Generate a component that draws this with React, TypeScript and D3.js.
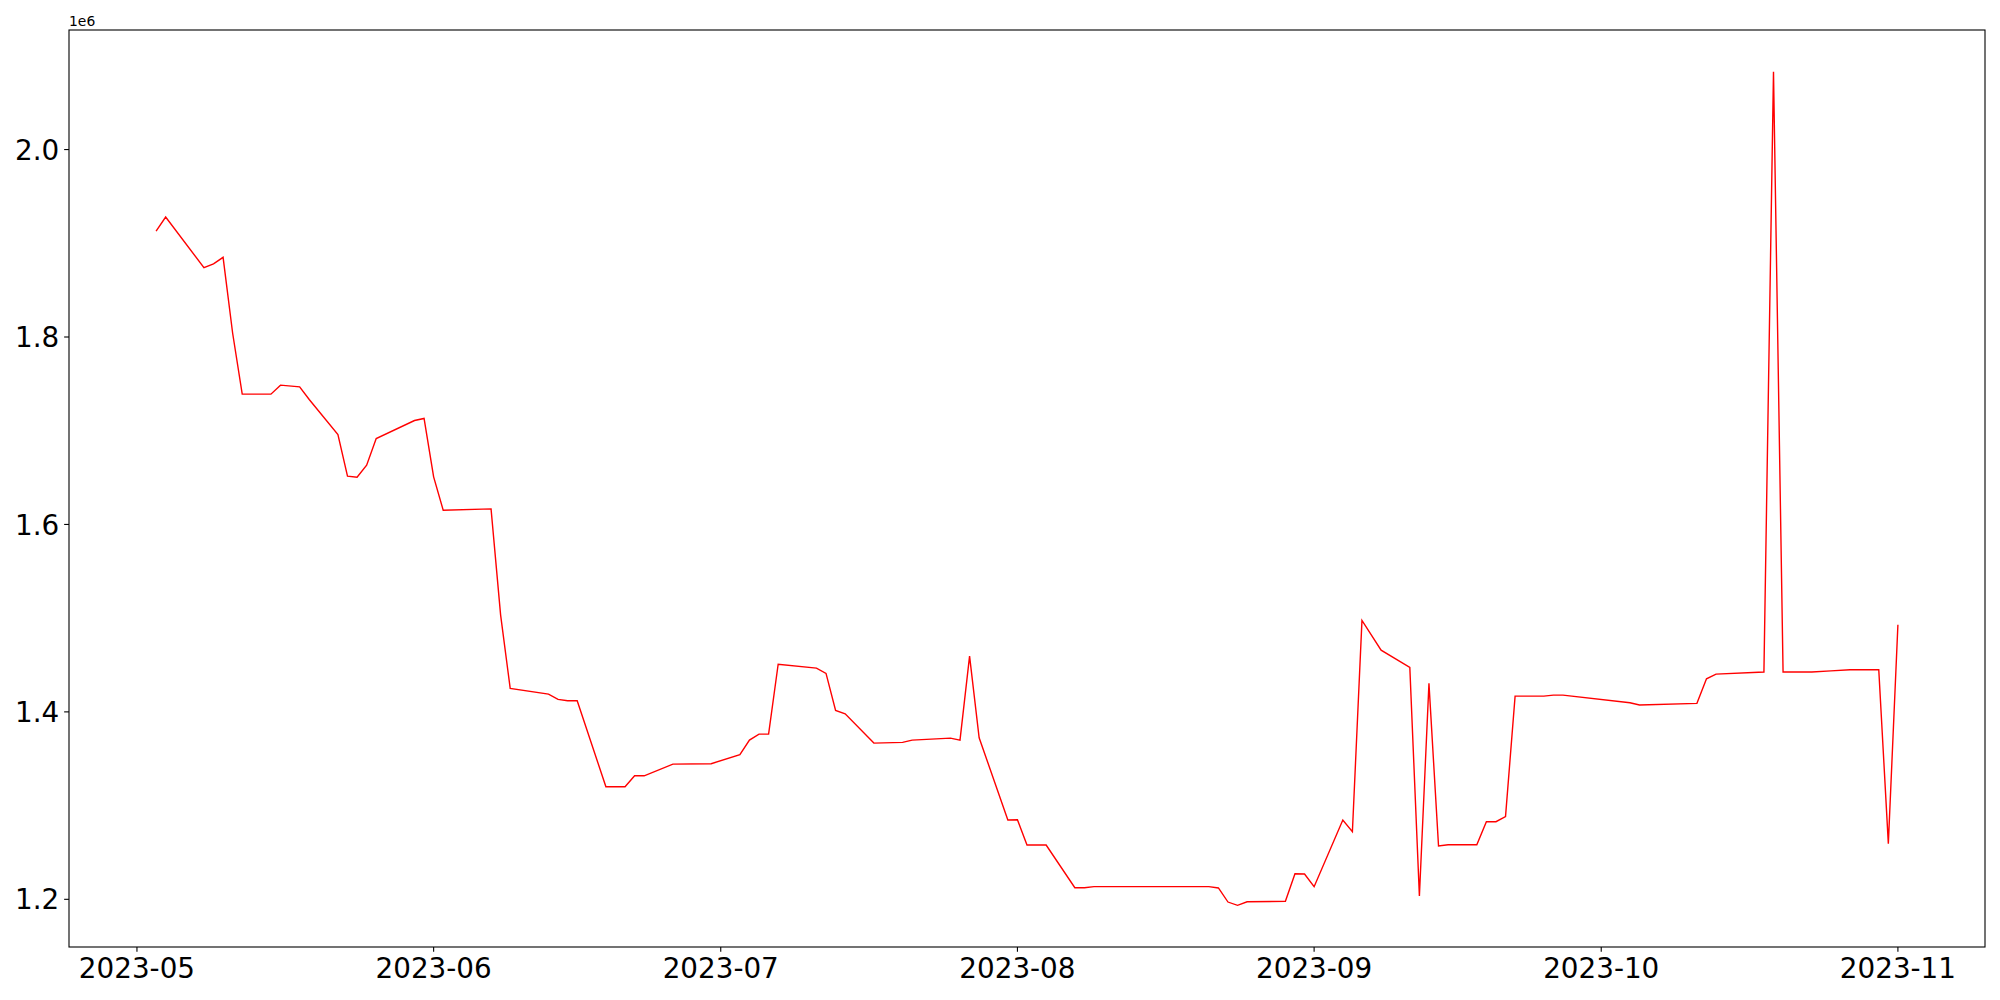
import React from "react";
import * as d3 from "d3";

const dates: string[] = [
  "2023-05-03","2023-05-04","2023-05-08","2023-05-09","2023-05-10","2023-05-11","2023-05-12","2023-05-15",
  "2023-05-16","2023-05-18","2023-05-19","2023-05-22","2023-05-23","2023-05-24","2023-05-25","2023-05-26",
  "2023-05-30","2023-05-31","2023-06-01","2023-06-02","2023-06-07","2023-06-08","2023-06-09","2023-06-13",
  "2023-06-14","2023-06-15","2023-06-16","2023-06-19","2023-06-21","2023-06-22","2023-06-23","2023-06-26",
  "2023-06-30","2023-07-03","2023-07-04","2023-07-05","2023-07-06","2023-07-07","2023-07-11","2023-07-12",
  "2023-07-13","2023-07-14","2023-07-17","2023-07-20","2023-07-21","2023-07-25","2023-07-26","2023-07-27",
  "2023-07-28","2023-07-31","2023-08-01","2023-08-02","2023-08-04","2023-08-07","2023-08-08","2023-08-09",
  "2023-08-21","2023-08-22","2023-08-23","2023-08-24","2023-08-25","2023-08-29","2023-08-30","2023-08-31",
  "2023-09-01","2023-09-04","2023-09-05","2023-09-06","2023-09-08","2023-09-11","2023-09-12","2023-09-13",
  "2023-09-14","2023-09-15","2023-09-18","2023-09-19","2023-09-20","2023-09-21","2023-09-22","2023-09-25",
  "2023-09-26","2023-09-27","2023-10-04","2023-10-05","2023-10-11","2023-10-12","2023-10-13","2023-10-18",
  "2023-10-19","2023-10-20","2023-10-23","2023-10-25","2023-10-27","2023-10-30","2023-10-31","2023-11-01"
];

const values: number[] = [
  1913000,1928000,1874000,1878000,1885000,1804000,1739000,1739000,
  1748600,1746800,1733300,1696000,1651500,1650400,1663200,1691700,
  1710900,1713100,1650800,1615200,1616600,1503300,1425000,1419000,
  1413300,1411900,1411900,1320100,1320100,1331800,1331800,1344300,
  1344700,1354300,1369900,1376300,1376300,1450800,1446700,1441100,
  1401600,1398000,1366700,1367500,1369900,1372000,1369900,1459500,
  1372400,1284600,1284900,1257900,1257900,1212400,1212400,1213500,
  1213500,1212100,1197100,1193600,1197400,1197900,1227300,1227000,
  1213500,1284600,1272100,1497600,1465900,1447500,1203500,1430400,
  1256900,1258300,1258300,1282800,1282800,1288200,1416800,1416800,
  1417900,1417900,1409700,1407300,1409100,1435300,1440300,1442600,
  2083100,1442600,1442600,1443700,1445000,1445000,1259400,1492900
];

const xTickDates: string[] = ["2023-05-01","2023-06-01","2023-07-01","2023-08-01","2023-09-01","2023-10-01","2023-11-01"];
const xTickLabels: string[] = ["2023-05","2023-06","2023-07","2023-08","2023-09","2023-10","2023-11"];
const yTicks: number[] = [1200000, 1400000, 1600000, 1800000, 2000000];
const yTickLabels: string[] = ["1.2", "1.4", "1.6", "1.8", "2.0"];
const offsetLabel = "1e6";

const W = 2000;
const H = 1000;
const left = 69;
const right = 1985;
const top = 30;
const bottom = 947;
const FONT = "'DejaVu Sans', sans-serif";
const FS = 27.8;

export default function App() {
  const parse = d3.utcParse("%Y-%m-%d");
  const pts = dates.map((d, i) => ({ d: parse(d) as Date, v: values[i] }));
  const [dMin, dMax] = d3.extent(pts, (p) => p.d.getTime()) as [number, number];
  const dSpan = dMax - dMin;
  const x = d3.scaleUtc()
    .domain([new Date(dMin - dSpan * 0.05), new Date(dMax + dSpan * 0.05)])
    .range([left, right]);
  const [vMin, vMax] = d3.extent(values) as [number, number];
  const vSpan = vMax - vMin;
  const y = d3.scaleLinear()
    .domain([vMin - vSpan * 0.05, vMax + vSpan * 0.05])
    .range([bottom, top]);

  const line = d3.line<{ d: Date; v: number }>()
    .x((p) => x(p.d))
    .y((p) => y(p.v));

  const tickLen = 4.86;
  const pad = 4.86;

  return (
    <div>
      <style>{"body{margin:0;}"}</style>
      <svg width={W} height={H} style={{ display: "block", background: "#fff" }} fontFamily={FONT}>
        <rect x={0} y={0} width={W} height={H} fill="#fff" />
        <path d={line(pts) || ""} fill="none" stroke="#ff0000" strokeWidth={1.4} strokeLinejoin="miter" />
        {/* spines */}
        <rect x={left} y={top} width={right - left} height={bottom - top} fill="none" stroke="#000" strokeWidth={1.1} />
        {/* x ticks */}
        {xTickDates.map((t, i) => {
          const xx = x(parse(t) as Date);
          return (
            <g key={t}>
              <line x1={xx} x2={xx} y1={bottom} y2={bottom + tickLen} stroke="#000" strokeWidth={1.1} />
              <text x={xx} y={bottom + tickLen + pad + FS * 0.76} textAnchor="middle" fontSize={FS} fill="#000">
                {xTickLabels[i]}
              </text>
            </g>
          );
        })}
        {/* y ticks */}
        {yTicks.map((t, i) => {
          const yy = y(t);
          return (
            <g key={t}>
              <line x1={left - tickLen} x2={left} y1={yy} y2={yy} stroke="#000" strokeWidth={1.1} />
              <text x={left - tickLen - pad} y={yy + FS * 0.365} textAnchor="end" fontSize={FS} fill="#000">
                {yTickLabels[i]}
              </text>
            </g>
          );
        })}
        <text x={left} y={top - 4} fontSize={13.9} fill="#000">{offsetLabel}</text>
      </svg>
    </div>
  );
}
